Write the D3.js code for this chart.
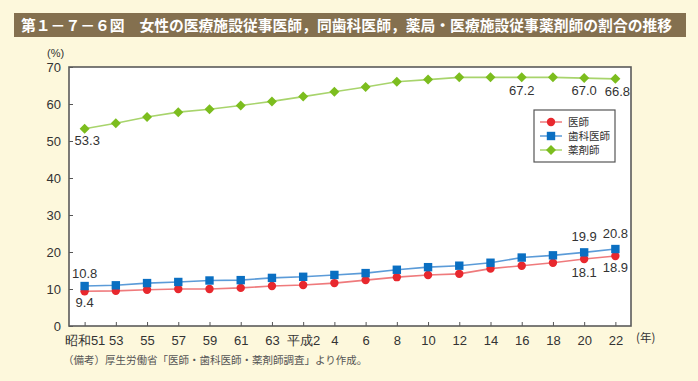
<!DOCTYPE html>
<html><head><meta charset="utf-8">
<script src="https://cdn.jsdelivr.net/npm/d3@7"></script>
<style>
body{margin:0;background:#fdf8dc;}
svg{display:block;font-family:"Liberation Sans","Noto Sans CJK JP",sans-serif;}
</style></head><body>
<svg id="c" width="698" height="381"></svg>
<script>
const categories = ["昭和51","53","55","57","59","61","63","平成2","4","6","8","10","12","14","16","18","20","22"];
const seriesNames = ["医師","歯科医師","薬剤師"];
const doctors  = [9.4,9.5,9.8,10.0,10.0,10.3,10.8,11.1,11.6,12.4,13.2,13.8,14.1,15.5,16.3,17.1,18.1,18.9];
const dentists = [10.8,11.0,11.6,11.9,12.3,12.4,13.0,13.3,13.8,14.3,15.2,15.9,16.3,17.1,18.5,19.1,19.9,20.8];
const pharmacists = [53.3,54.8,56.5,57.8,58.6,59.6,60.7,62.0,63.3,64.6,66.0,66.6,67.2,67.2,67.2,67.2,67.0,66.8];
const yTicks = [0,10,20,30,40,50,60,70];
const annotations = [
  {s:0,i:0,text:"9.4",dx:0,dy:16},
  {s:1,i:0,text:"10.8",dx:0,dy:-8},
  {s:0,i:16,text:"18.1",dx:0,dy:18},
  {s:0,i:17,text:"18.9",dx:0,dy:16},
  {s:1,i:16,text:"19.9",dx:0,dy:-11},
  {s:1,i:17,text:"20.8",dx:0,dy:-11},
  {s:2,i:0,text:"53.3",dx:-10,dy:16,anchor:"start"},
  {s:2,i:14,text:"67.2",dx:0,dy:18},
  {s:2,i:16,text:"67.0",dx:0,dy:17},
  {s:2,i:17,text:"66.8",dx:2,dy:17}
];

const svg = d3.select("#c");
const L=69,R=631,T=67,B=326;
const x = d3.scalePoint().domain(categories).range([L,R]).padding(0.5);
const y = d3.scaleLinear().domain([0,70]).range([B,T]);

// title bar
svg.append("rect").attr("x",14).attr("y",13).attr("width",672).attr("height",24).attr("fill","#84704f");
svg.append("text").attr("x",21).attr("y",30.5).attr("fill","#fff").attr("font-size",14.8).attr("font-weight","bold")
  .attr("font-family","'Noto Sans CJK JP',sans-serif")
  .text("第１－７－６図　女性の医療施設従事医師，同歯科医師，薬局・医療施設従事薬剤師の割合の推移");

// plot area
svg.append("rect").attr("x",L).attr("y",T).attr("width",R-L).attr("height",B-T).attr("fill","#fff");

// axes
const yAxis = d3.axisLeft(y).tickValues(yTicks).tickSize(-4).tickPadding(8).tickFormat(d3.format("d"));
const gy = svg.append("g").attr("transform",`translate(${L},0)`).call(yAxis);
gy.select(".domain").remove();
gy.selectAll(".tick line").attr("stroke","#555");
gy.selectAll("text").attr("font-size",13).attr("fill","#333");

const xAxis = d3.axisBottom(x).tickSize(-4).tickPadding(10);
const gx = svg.append("g").attr("transform",`translate(0,${B})`).call(xAxis);
gx.select(".domain").remove();
gx.selectAll(".tick line").attr("stroke","#555");
gx.selectAll("text").attr("font-size",13).attr("fill","#333");

// frame
svg.append("rect").attr("x",L).attr("y",T).attr("width",R-L).attr("height",B-T)
  .attr("fill","none").attr("stroke","#5a5a5a").attr("stroke-width",1.6);

svg.append("text").attr("x",47).attr("y",57).attr("font-size",11).attr("fill","#333").text("(%)");
svg.append("text").attr("x",636).attr("y",342).attr("font-size",11.5).attr("fill","#333")
  .attr("font-family","'Noto Sans CJK JP',sans-serif").text("(年)");

// series
const data = [doctors,dentists,pharmacists];
const lineCols = ["#ef7a7c","#5b9bd8","#a8d46c"];
const markCols = ["#e8282e","#0a6fc2","#7cbd1e"];
const line = d3.line().x((d,i)=>x(categories[i])).y(d=>y(d));
data.forEach((vals,s)=>{
  svg.append("path").attr("d",line(vals)).attr("fill","none").attr("stroke",lineCols[s]).attr("stroke-width",1.6);
});
function marker(g,s,cx,cy){
  if(s===0) g.append("circle").attr("cx",cx).attr("cy",cy).attr("r",4.2).attr("fill",markCols[0]);
  else if(s===1) g.append("rect").attr("x",cx-4.2).attr("y",cy-4.2).attr("width",8.4).attr("height",8.4).attr("fill",markCols[1]);
  else g.append("path").attr("d",`M${cx},${cy-5}L${cx+5},${cy}L${cx},${cy+5}L${cx-5},${cy}Z`).attr("fill",markCols[2]);
}
data.forEach((vals,s)=>{
  const g = svg.append("g");
  vals.forEach((v,i)=>marker(g,s,x(categories[i]),y(v)));
});

// annotations
annotations.forEach(a=>{
  const v = data[a.s][a.i];
  svg.append("text").attr("x",x(categories[a.i])+a.dx).attr("y",y(v)+a.dy)
    .attr("text-anchor",a.anchor||"middle").attr("font-size",13).attr("fill","#333").text(a.text);
});

// legend
const lg = svg.append("g");
lg.append("rect").attr("x",534).attr("y",110).attr("width",81).attr("height",52).attr("fill","#fff").attr("stroke","#555").attr("stroke-width",1.2);
seriesNames.forEach((n,s)=>{
  const yy = 122 + s*14;
  lg.append("line").attr("x1",540).attr("x2",562).attr("y1",yy).attr("y2",yy).attr("stroke",lineCols[s]).attr("stroke-width",1.5);
  marker(lg,s,551,yy);
  lg.append("text").attr("x",568).attr("y",yy+4).attr("font-size",10.5).attr("fill","#333")
    .attr("font-family","'Noto Sans CJK JP',sans-serif").text(n);
});

// footnote
svg.append("text").attr("x",63).attr("y",364).attr("font-size",10.5).attr("fill","#555")
  .attr("font-family","'Noto Sans CJK JP',sans-serif")
  .text("（備考）厚生労働省「医師・歯科医師・薬剤師調査」より作成。");
</script></body></html>
